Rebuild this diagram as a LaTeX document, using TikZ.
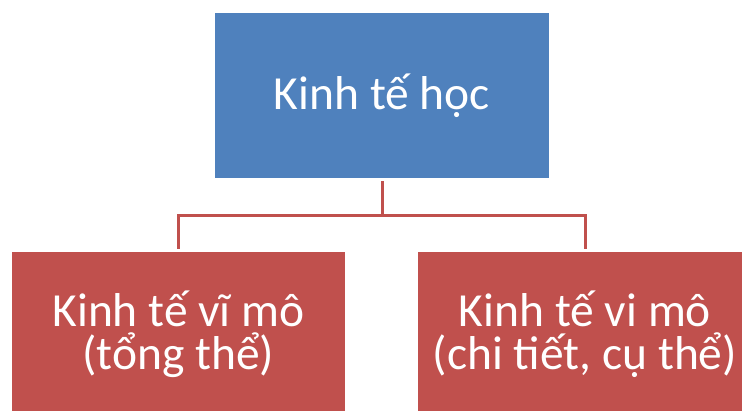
\documentclass[tikz,border=0pt]{standalone}
\usepackage{fontspec}
\setmainfont{Carlito}
\definecolor{boxblue}{HTML}{4F81BD}
\definecolor{boxred}{HTML}{C0504D}
\begin{document}
\begin{tikzpicture}[x=1pt,y=-1pt,
  box/.style={rectangle, inner sep=0pt, text=white, align=center,
    font=\fontsize{47.5}{43}\selectfont, minimum height=165pt},
  link/.style={draw=boxred, line width=3pt, line join=miter}]
\useasboundingbox (0,0) rectangle (742,410);
\node[box, fill=boxblue, minimum width=334pt] (top) at (382,95.5) {Kinh tế học};
\node[box, fill=boxred, minimum width=333pt] (left) at (178.5,334.5) {Kinh tế vĩ mô\\(tổng thể)};
\node[box, fill=boxred, minimum width=334pt] (right) at (585,334.5) {Kinh tế vi mô\\(chi tiết, cụ thể)};
\coordinate (j) at (382,215);
\draw[link, shorten <=3pt] (top.south) -- (j);
\draw[link, shorten <=3pt, shorten >=3pt] (left.north) |- (j) -| (right.north);
\end{tikzpicture}
\end{document}
